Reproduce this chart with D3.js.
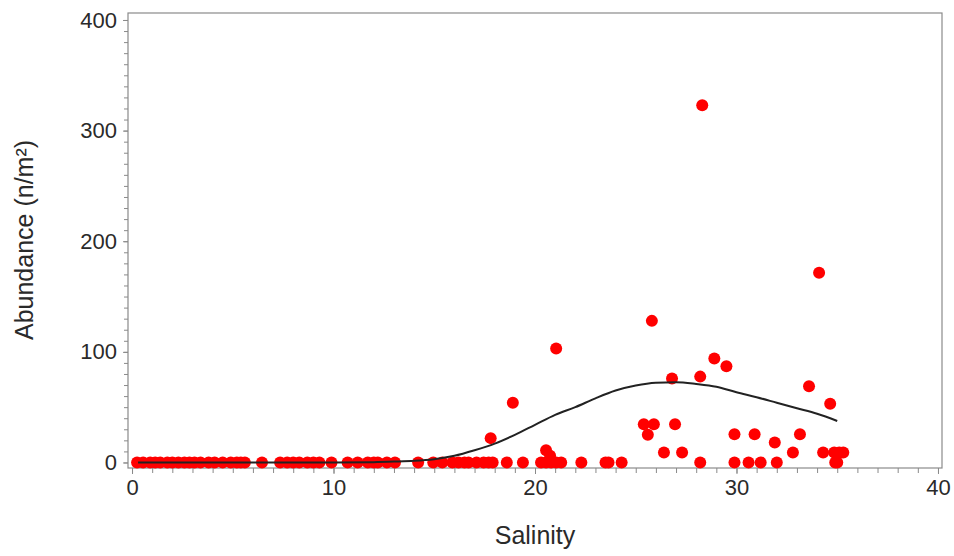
<!DOCTYPE html>
<html><head><meta charset="utf-8">
<script src="https://cdn.jsdelivr.net/npm/d3@7"></script>
<style>body{margin:0;background:#fff}svg{display:block}</style>
</head><body>
<svg id="c" width="954" height="556"></svg>
<script>
// Observed points: [salinity, abundance]
const zeroSalinity = [0.25,0.55,0.9,1.15,1.4,1.75,2.0,2.3,2.6,2.85,3.1,3.4,3.8,4.1,4.5,4.9,5.2,5.4,5.6,6.45,7.35,7.7,8.0,8.3,8.7,9.0,9.3,9.9,10.7,11.2,11.7,12.0,12.2,12.65,13.05,14.2,14.95,15.4,15.9,16.2,16.5,16.7,17.1,17.45,17.7,17.9,18.6,19.4,20.3,20.55,20.8,21.05,21.3,22.3,23.5,23.65,24.3,28.2,29.9,30.6,31.2,32.0,34.9,35.0];
const posSalinity = [17.8,18.9,20.55,20.75,21.05,25.4,25.9,25.6,25.8,26.8,26.95,26.4,27.3,28.2,28.3,28.9,29.5,29.9,30.9,31.9,32.8,33.15,33.6,34.1,34.3,34.65,34.85,35.1,35.3];
const posAbundance = [22,54,11,6,103,34.5,34.5,25,128,76,34.5,9,9,77.6,323,94,87,25.5,25.5,18,9,25.5,69,171.6,9,53,9,9,9];
// Fitted curve
const curveSalinity = [0.3,2,4,6,8,10,12,13,14,15,16,17,18,19,20,21,22,23,24,25,26,27,28,29,30,31,32,33,34,35];
const curveAbundance = [0,0,0,0,0,0,0.3,0.8,1.5,3,6,11,17,25,34,43,50,58,65,69.5,72,72.5,71,68.5,63.5,59,54,49,44,37.5];
const xTicks = [0,10,20,30,40];
const yTicks = [0,100,200,300,400];

const points = zeroSalinity.map(s => [s, 0]).concat(posSalinity.map((s,i) => [s, posAbundance[i]]));
const curve = curveSalinity.map((s,i) => [s, curveAbundance[i]]);

const svg = d3.select('#c');
const x = d3.scaleLinear().domain([-0.2, 40.2]).range([128, 942]);
const y = d3.scaleLinear().domain([-5, 406.3]).range([468, 13]);
const font = 'Arial, "Liberation Sans", sans-serif';
const axisCol = '#8a8a8a';

// frame
svg.append('rect').attr('x', 128).attr('y', 13).attr('width', 814).attr('height', 455)
  .attr('fill', 'none').attr('stroke', axisCol).attr('stroke-width', 1.2);

// minor ticks
svg.append('g').attr('transform', 'translate(128,0)')
  .call(d3.axisLeft(y).tickValues(d3.range(0, 401, 10)).tickSize(4).tickFormat(''))
  .call(g => { g.select('.domain').remove(); g.selectAll('line').attr('stroke', axisCol); });
svg.append('g').attr('transform', 'translate(0,468)')
  .call(d3.axisBottom(x).tickValues(d3.range(0, 41, 1)).tickSize(5).tickFormat(''))
  .call(g => { g.select('.domain').remove(); g.selectAll('line').attr('stroke', axisCol); });

// major ticks + labels
svg.append('g').attr('transform', 'translate(128,0)')
  .call(d3.axisLeft(y).tickValues(yTicks).tickSize(5).tickPadding(6))
  .call(g => { g.select('.domain').remove(); g.selectAll('line').attr('stroke', axisCol);
    g.selectAll('text').attr('font-family', font).attr('font-size', 22).attr('fill', '#2a2a2a'); });
svg.append('g').attr('transform', 'translate(0,468)')
  .call(d3.axisBottom(x).tickValues(xTicks).tickSize(6).tickPadding(5))
  .call(g => { g.select('.domain').remove(); g.selectAll('line').attr('stroke', axisCol);
    g.selectAll('text').attr('font-family', font).attr('font-size', 22).attr('fill', '#2a2a2a'); });

// points
svg.append('g').selectAll('circle').data(points).join('circle')
  .attr('cx', d => x(d[0])).attr('cy', d => y(d[1])).attr('r', 6).attr('fill', '#ff0000');

// curve
svg.append('path').datum(curve)
  .attr('d', d3.line().x(d => x(d[0])).y(d => y(d[1])).curve(d3.curveMonotoneX))
  .attr('fill', 'none').attr('stroke', '#222').attr('stroke-width', 2);

// axis titles
svg.append('text').attr('x', 535).attr('y', 544).attr('text-anchor', 'middle')
  .attr('font-family', font).attr('font-size', 25).attr('fill', '#2a2a2a').text('Salinity');
svg.append('text').attr('transform', 'translate(33,240) rotate(-90)').attr('text-anchor', 'middle')
  .attr('font-family', font).attr('font-size', 25).attr('fill', '#2a2a2a').text('Abundance (n/m²)');
</script>
</body></html>
